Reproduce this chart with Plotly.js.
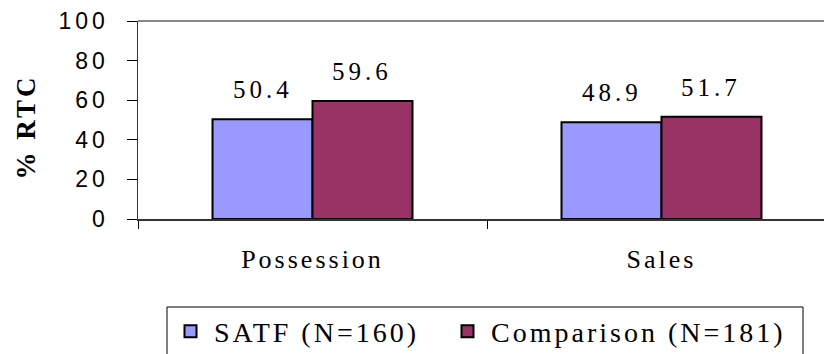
<!DOCTYPE html>
<html>
<head>
<meta charset="utf-8">
<script src="https://cdn.plot.ly/plotly-3.0.1.min.js"></script>
<style>
  html, body { margin: 0; padding: 0; background: #fff; }
  #chart { width: 824px; height: 354px; }
  /* spaced-out lettering used throughout the chart */
  .ytick text { letter-spacing: 4px; }
  .xtick text { letter-spacing: 3px; }
  .legendtext { letter-spacing: 3px; }
  .annotation-text { letter-spacing: 4px; }
  .g-ytitle text { letter-spacing: 3px; }
  .g-ytitle { transform: translate(1px, 7px); }
  /* larger legend swatches, and no clipping of the legend row */
  .legend .legendpoints path.legendbar {
    transform: translate(27px, 0px) scale(1.8);
    vector-effect: non-scaling-stroke;
  }
  .legend .scrollbox { clip-path: none !important; }
</style>
</head>
<body>
<div id="chart"></div>
<script>
// Categories and series
const categories = ['Possession', 'Sales'];
const satfName = 'SATF (N=160)';
const comparisonName = 'Comparison (N=181)';
const satfValues = [50.4, 48.9];
const comparisonValues = [59.6, 51.7];
const yTickValues = [0, 20, 40, 60, 80, 100];

const serif = 'Liberation Serif';
const sans = 'Liberation Sans';
const bargap = 0.427;

const traces = [
  {
    type: 'bar', name: satfName, x: categories, y: satfValues,
    marker: { color: '#9999FF', line: { color: '#000', width: 2 } },
    hoverinfo: 'skip'
  },
  {
    type: 'bar', name: comparisonName, x: categories, y: comparisonValues,
    marker: { color: '#993366', line: { color: '#000', width: 2 } },
    hoverinfo: 'skip'
  }
];

// value labels sit above each bar, centred on it
const half = (1 - bargap) / 4;
const annotations = [];
[satfValues, comparisonValues].forEach((vals, s) => {
  vals.forEach((v, i) => {
    annotations.push({
      xref: 'x', yref: 'y',
      x: i + (s === 0 ? -half : half), y: v,
      text: v.toFixed(1), showarrow: false,
      xanchor: 'center', yanchor: 'bottom', yshift: 14,
      font: { family: serif, size: 25, color: '#000' }
    });
  });
});

const layout = {
  width: 824, height: 354,
  font: { family: serif },
  margin: { l: 138, r: 0, t: 21, b: 135, autoexpand: false },
  paper_bgcolor: '#fff', plot_bgcolor: '#fff',
  barmode: 'group', bargap: bargap, bargroupgap: 0,
  showlegend: true,
  legend: {
    orientation: 'h', xref: 'paper', yref: 'paper',
    x: (167 - 138) / 686, xanchor: 'left',
    y: -0.568, yanchor: 'middle',
    itemwidth: 37, entrywidth: 225, entrywidthmode: 'pixels',
    borderwidth: 0, bgcolor: 'rgba(0,0,0,0)',
    font: { family: serif, size: 28, color: '#000' },
    itemclick: false, itemdoubleclick: false
  },
  xaxis: {
    type: 'category', range: [-0.5, -0.5 + 686 / 349],
    tickson: 'boundaries', ticks: 'outside', ticklen: 8, tickwidth: 1, tickcolor: '#000',
    showline: true, linecolor: '#333', linewidth: 2,
    showgrid: false, zeroline: false,
    tickfont: { family: serif, size: 26, color: '#000' },
    ticklabelstandoff: 16, fixedrange: true
  },
  yaxis: {
    range: [0, 100], tickvals: yTickValues, ticktext: yTickValues.map(String),
    ticks: 'outside', ticklen: 10, tickwidth: 1, tickcolor: '#000',
    showline: true, linecolor: '#333', linewidth: 1.5,
    showgrid: false, zeroline: false,
    tickfont: { family: sans, size: 23, color: '#000' },
    ticklabelstandoff: 13,
    title: { text: '% RTC', font: { family: serif, size: 27, color: '#000', weight: 'bold' }, standoff: 16 },
    fixedrange: true
  },
  shapes: [
    // plot-area top edge
    { type: 'line', xref: 'paper', yref: 'paper', x0: 0, x1: 1, y0: 1, y1: 1,
      line: { color: '#888', width: 2 } },
    // legend frame
    { type: 'rect', xref: 'paper', yref: 'paper',
      x0: (167 - 138) / 686, x1: (803 - 138) / 686,
      y0: (219 - 307) / 198, y1: (219 - 380) / 198,
      line: { color: '#000', width: 1 }, fillcolor: 'rgba(0,0,0,0)' }
  ],
  annotations: annotations
};

Plotly.newPlot('chart', traces, layout, { displayModeBar: false, staticPlot: true });
</script>
</body>
</html>
